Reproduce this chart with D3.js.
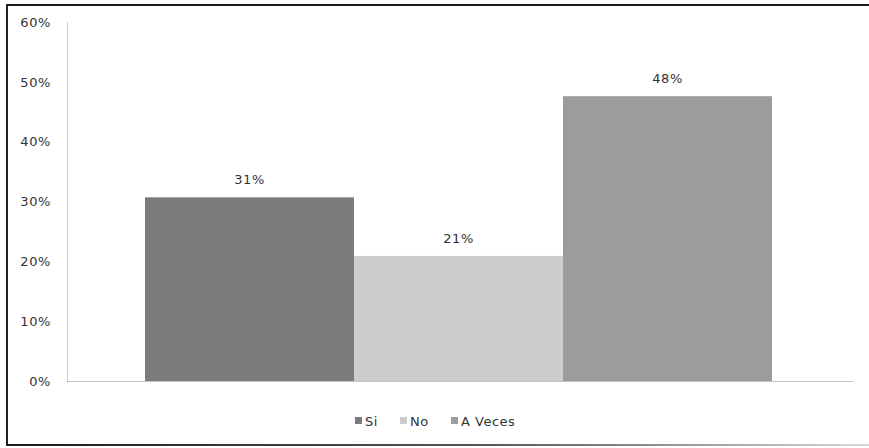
<!DOCTYPE html>
<html>
<head>
<meta charset="utf-8">
<script src="https://cdn.jsdelivr.net/npm/d3@7"></script>
<style>
  html, body { margin: 0; padding: 0; background: #fff; }
  svg { display: block; }
  text { font-family: "DejaVu Sans", Verdana, sans-serif; }
</style>
</head>
<body>
<svg id="chart" width="869" height="448"></svg>
<script>
// ---- data ----
const series = ["Si", "No", "A Veces"];
const values = [0.307, 0.209, 0.476];
const colors = ["#7b7b7b", "#cdcdcd", "#9c9c9c"];
const yTicks = [0, 0.1, 0.2, 0.3, 0.4, 0.5, 0.6];

const svg = d3.select("#chart");
const W = 869, H = 448;
const m = { left: 67, right: 17, top: 22, bottom: 67 };
const plotW = W - m.left - m.right;
const plotH = H - m.top - m.bottom;

// frame
const defs = svg.append("defs");
const grad = defs.append("linearGradient").attr("id", "botgrad")
  .attr("x1", "0%").attr("x2", "100%");
grad.append("stop").attr("offset", "0%").attr("stop-color", "#1a1a1a");
grad.append("stop").attr("offset", "55%").attr("stop-color", "#555");
grad.append("stop").attr("offset", "100%").attr("stop-color", "#d8d8d8");

svg.append("line").attr("x1", 6).attr("x2", W).attr("y1", 5).attr("y2", 5)
  .attr("stroke", "#1a1a1a").attr("stroke-width", 2);
svg.append("line").attr("x1", 7).attr("x2", 7).attr("y1", 4).attr("y2", 446)
  .attr("stroke", "#222").attr("stroke-width", 2);
svg.append("rect").attr("x", 6).attr("y", 444).attr("width", W - 6).attr("height", 2)
  .attr("fill", "url(#botgrad)");

const g = svg.append("g").attr("transform", `translate(${m.left},${m.top})`);

const y = d3.scaleLinear().domain([0, 0.6]).range([plotH, 0]);
const xOuter = d3.scaleBand().domain(["cat"]).range([0, plotW]).paddingInner(0).paddingOuter(0.1);
const x = d3.scaleBand().domain(series).range([78, plotW - 80]).padding(0);

// axes
const yAxis = d3.axisLeft(y).tickValues(yTicks).tickFormat(d3.format(".0%")).tickSize(0).tickPadding(16);
const ya = g.append("g").call(yAxis);
ya.select(".domain").attr("stroke", "#999").attr("stroke-dasharray", "1,1");
ya.selectAll("text").attr("font-size", 13).attr("fill", "#333").attr("letter-spacing", "0.6px")
  .attr("text-anchor", "end").attr("dx", "0");

const xAxis = d3.axisBottom(d3.scaleLinear().range([0, plotW])).tickValues([]).tickSize(0);
const xa = g.append("g").attr("transform", `translate(0,${plotH})`).call(xAxis);
xa.select(".domain").attr("stroke", "#888").attr("stroke-dasharray", "1,1");

// bars
g.selectAll("rect.bar").data(values).join("rect").attr("class", "bar")
  .attr("x", (d, i) => x(series[i]))
  .attr("width", x.bandwidth())
  .attr("y", d => y(d))
  .attr("height", d => plotH - y(d))
  .attr("fill", (d, i) => colors[i]);

// labels
g.selectAll("text.lbl").data(values).join("text").attr("class", "lbl")
  .attr("x", (d, i) => x(series[i]) + x.bandwidth() / 2)
  .attr("y", d => y(d) - 13)
  .attr("text-anchor", "middle")
  .attr("font-size", 13).attr("fill", "#333").attr("letter-spacing", "0.6px")
  .text(d => d3.format(".0%")(d));

// legend
const legend = svg.append("g").attr("transform", "translate(355,426)");
const legX = [0, 45, 96];
series.forEach((s, i) => {
  const lg = legend.append("g").attr("transform", `translate(${legX[i]},0)`);
  lg.append("rect").attr("x", 0).attr("y", -9).attr("width", 7).attr("height", 7).attr("fill", colors[i]);
  lg.append("text").attr("x", 10).attr("y", 0).attr("font-size", 13).attr("fill", "#333")
    .attr("letter-spacing", "0.5px").text(s);
});
</script>
</body>
</html>
